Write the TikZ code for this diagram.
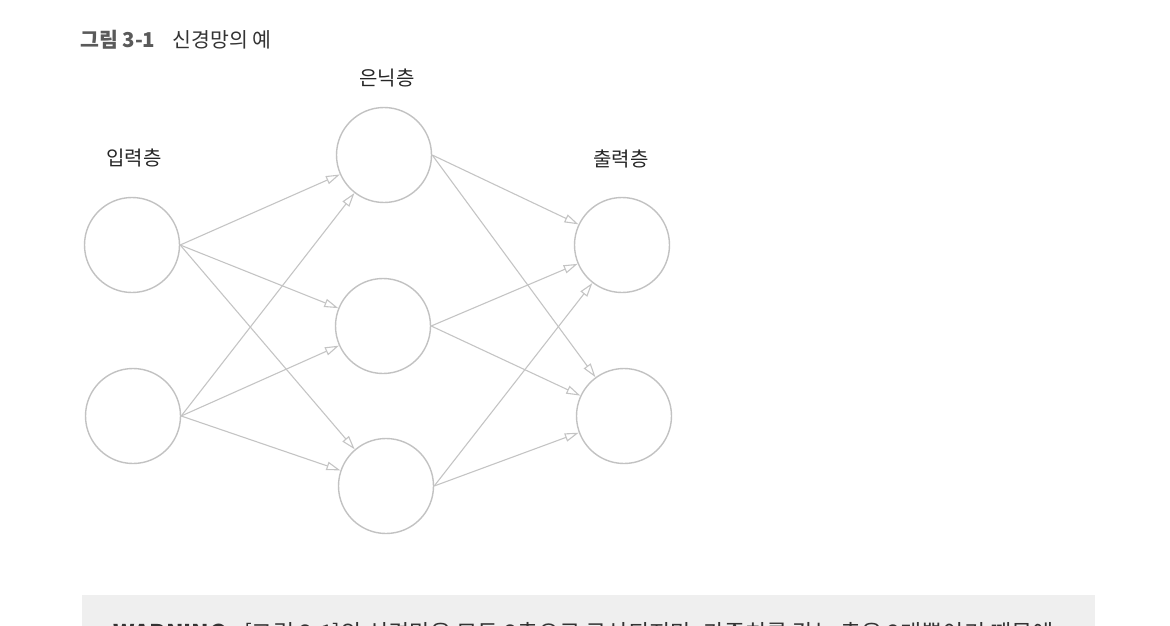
\documentclass[tikz,border=0pt]{standalone}
\usepackage{fontspec}
\setmainfont{Noto Sans CJK KR}
\usetikzlibrary{arrows.meta}

\definecolor{ringgray}{HTML}{C2C2C2}
\definecolor{edgegray}{HTML}{C4C4C4}
\definecolor{titlegray}{HTML}{5A5A5A}
\definecolor{boxgray}{HTML}{EFEFEF}

\tikzset{
  neuron/.style={circle, draw=ringgray, line width=1.4pt, fill=white,
                 minimum size=95pt, inner sep=0pt},
  link/.style={draw=edgegray, line width=1.1pt,
               -{Triangle[open, length=14pt, width=8.5pt, line width=1.1pt]}},
  layerlabel/.style={inner sep=0pt, text=black!85,
                     font=\fontsize{20}{24}\selectfont},
}

\begin{document}
\begin{tikzpicture}[x=1pt, y=-1pt]
  \useasboundingbox (0,0) rectangle (1170,626);
  \clip (0,0) rectangle (1170,626);

  % caption
  \node[anchor=base west, inner sep=0pt, font=\fontsize{20.5}{24}\selectfont]
    (caption) at (80,48)
    {\textcolor{titlegray}{\textbf{그림 3-1}}\hspace{17pt}\textcolor{black!80}{신경망의 예}};

  % layers
  \node[neuron] (i1) at (132,245) {};
  \node[neuron] (i2) at (133,416) {};
  \node[neuron] (h1) at (384,155) {};
  \node[neuron] (h2) at (383,326) {};
  \node[neuron] (h3) at (386,486) {};
  \node[neuron] (o1) at (622,245) {};
  \node[neuron] (o2) at (624,416) {};

  \node[layerlabel] (lin)  at (134,158) {입력층};
  \node[layerlabel] (lhid) at (387,78)  {은닉층};
  \node[layerlabel] (lout) at (621,159) {출력층};

  % connections
  \foreach \s in {i1,i2}
    \foreach \t in {h1,h2,h3}
      \draw[link] (\s.east) -- (\t);
  \foreach \s in {h1,h2,h3}
    \foreach \t in {o1,o2}
      \draw[link] (\s.east) -- (\t);

  % note box at the bottom
  \fill[boxgray] (82,595) rectangle (1095,650);
  \node[anchor=base west, inner sep=0pt, text=black!80,
        font=\fontsize{23}{27}\selectfont] (warn) at (113,641)
    {\textbf{WARNING}\hspace{18pt}[그림 3-1]의 신경망은 모두 3층으로 구성되지만, 가중치를 갖는 층은 2개뿐이기 때문에};
\end{tikzpicture}
\end{document}
